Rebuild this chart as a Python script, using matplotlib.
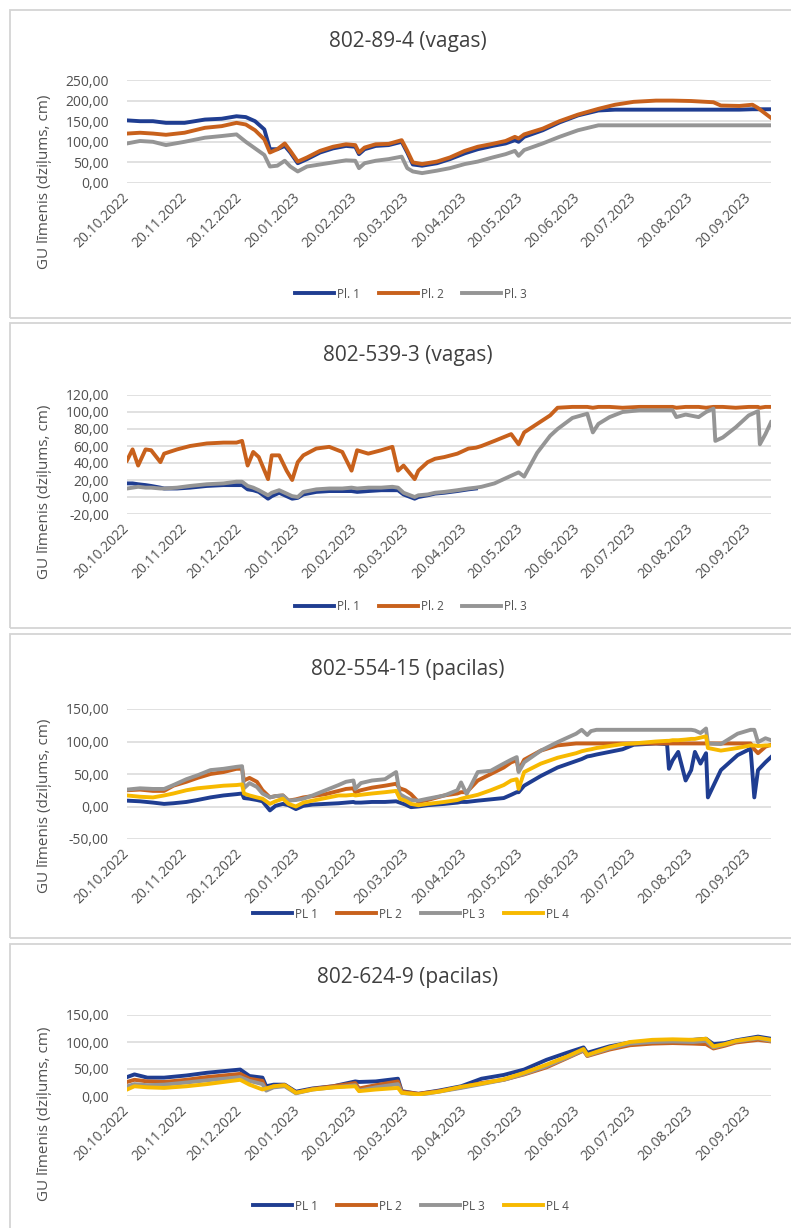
import matplotlib
matplotlib.use("Agg")
import matplotlib.pyplot as plt
import matplotlib.dates as mdates
from matplotlib.patches import Rectangle
from matplotlib.ticker import FuncFormatter, MultipleLocator
import numpy as np
import pandas as pd

plt.rcParams["font.family"] = ["Open Sans", "DejaVu Sans"]

# ---- groundwater level series (cm) ------------------------------------------
p1_dates = ["20.10.2022", "27.10.2022", "03.11.2022", "10.11.2022", "20.11.2022", "01.12.2022",
            "10.12.2022", "18.12.2022", "23.12.2022", "28.12.2022", "02.01.2023", "05.01.2023",
            "09.01.2023", "13.01.2023", "16.01.2023", "20.01.2023", "25.01.2023", "01.02.2023",
            "08.02.2023", "15.02.2023", "20.02.2023", "22.02.2023", "25.02.2023", "03.03.2023",
            "10.03.2023", "17.03.2023", "20.03.2023", "23.03.2023", "28.03.2023", "05.04.2023",
            "12.04.2023", "20.04.2023", "27.04.2023", "05.05.2023", "12.05.2023", "17.05.2023",
            "19.05.2023", "22.05.2023", "01.06.2023", "10.06.2023", "20.06.2023", "01.07.2023",
            "10.07.2023", "20.07.2023", "01.08.2023", "10.08.2023", "20.08.2023", "01.09.2023",
            "05.09.2023", "15.09.2023", "22.09.2023", "25.09.2023", "02.10.2023"]
p1_pl1 = [152, 150, 150, 146, 146, 154, 156, 162, 160, 150, 130, 82, 82, 90, 74, 48, 58, 74,
          84, 90, 88, 70, 82, 90, 92, 100, 74, 45, 42, 48, 58, 72, 82, 90, 96, 104, 100, 112,
          128, 147, 164, 176, 178, 178, 178, 178, 178, 178, 178, 178, 179, 179, 179]
p1_pl2 = [120, 122, 120, 117, 122, 134, 138, 146, 142, 128, 106, 74, 82, 96, 78, 52, 62, 78,
          88, 94, 92, 74, 86, 94, 95, 104, 78, 50, 46, 52, 62, 78, 88, 95, 102, 112, 108, 118,
          132, 150, 166, 180, 190, 197, 200, 200, 199, 196, 188, 187, 190, 182, 158]
p1_pl3 = [96, 102, 100, 92, 100, 110, 114, 118, 100, 84, 68, 40, 42, 54, 40, 28, 40, 45,
          50, 55, 54, 36, 48, 54, 58, 64, 36, 28, 24, 30, 36, 46, 52, 62, 70, 78, 66, 80,
          96, 112, 128, 140, 140, 140, 140, 140, 140, 140, 140, 140, 140, 140, 140]

p2_dates = ["20.10.2022", "23.10.2022", "26.10.2022", "30.10.2022", "02.11.2022", "07.11.2022",
            "09.11.2022", "16.11.2022", "23.11.2022", "02.12.2022", "11.12.2022", "18.12.2022",
            "21.12.2022", "24.12.2022", "27.12.2022", "30.12.2022", "04.01.2023", "06.01.2023",
            "10.01.2023", "14.01.2023", "17.01.2023", "20.01.2023", "23.01.2023", "30.01.2023",
            "06.02.2023", "13.02.2023", "18.02.2023", "21.02.2023", "27.02.2023", "06.03.2023",
            "12.03.2023", "15.03.2023", "18.03.2023", "24.03.2023", "26.03.2023", "31.03.2023",
            "04.04.2023", "09.04.2023", "16.04.2023", "22.04.2023", "26.04.2023", "29.04.2023",
            "06.05.2023", "15.05.2023", "19.05.2023", "22.05.2023", "29.05.2023", "05.06.2023",
            "09.06.2023", "17.06.2023", "25.06.2023", "28.06.2023", "01.07.2023", "07.07.2023",
            "14.07.2023", "23.07.2023", "10.08.2023", "12.08.2023", "17.08.2023", "24.08.2023",
            "28.08.2023", "01.09.2023", "02.09.2023", "06.09.2023", "13.09.2023", "20.09.2023",
            "25.09.2023", "26.09.2023", "29.09.2023", "02.10.2023"]
p2_pl1 = [16, 16, 15, 14, 13, 11, 10, 10, 11, 13, 14, 14, 14, 9, 8, 6, -2, 1, 5, 1,
          -2, -1, 3, 6, 7, 7, 7, 6, 7, 8, 8, 8, 3, -2, 0, 2, 4, 5, 7, 9, 10] + [None] * 29
p2_pl2 = [43, 56, 37, 56, 55, 41, 51, 56, 60, 63, 64, 64, 66, 37, 53, 47, 21, 49, 49, 31,
          20, 41, 49, 57, 59, 53, 31, 55, 51, 55, 59, 31, 37, 21, 31, 41, 45, 47, 51, 57,
          58, 60, 66, 74, 62, 76, 86, 96, 105, 106, 106, 105, 106, 106, 105, 106, 106, 105,
          106, 106, 105, 106, 106, 106, 105, 106, 106, 105, 106, 106]
p2_pl3 = [10, 11, 12, 11, 11, 10, 10, 11, 13, 15, 16, 18, 18, 13, 11, 8, 2, 5, 8, 4,
          1, 0, 6, 9, 10, 10, 11, 10, 11, 11, 12, 11, 5, 0, 2, 3, 5, 6, 8, 10,
          11, 12, 16, 25, 29, 24, 52, 72, 80, 93, 98, 76, 86, 94, 100, 102, 102, 94, 97, 94,
          100, 104, 66, 70, 82, 96, 101, 62, 74, 88]

p3_dates = ["20.10.2022", "27.10.2022", "03.11.2022", "09.11.2022", "14.11.2022", "21.11.2022",
            "27.11.2022", "04.12.2022", "11.12.2022", "18.12.2022", "21.12.2022", "22.12.2022",
            "25.12.2022", "29.12.2022", "01.01.2023", "05.01.2023", "08.01.2023", "12.01.2023",
            "15.01.2023", "19.01.2023", "23.01.2023", "28.01.2023", "04.02.2023", "11.02.2023",
            "15.02.2023", "19.02.2023", "20.02.2023", "23.02.2023", "01.03.2023", "08.03.2023",
            "14.03.2023", "16.03.2023", "19.03.2023", "22.03.2023", "26.03.2023", "31.03.2023",
            "09.04.2023", "16.04.2023", "18.04.2023", "21.04.2023", "27.04.2023", "04.05.2023",
            "11.05.2023", "15.05.2023", "18.05.2023", "19.05.2023", "22.05.2023", "31.05.2023",
            "09.06.2023", "19.06.2023", "22.06.2023", "25.06.2023", "27.06.2023", "30.06.2023",
            "07.07.2023", "14.07.2023", "20.07.2023", "01.08.2023", "07.08.2023", "08.08.2023",
            "10.08.2023", "13.08.2023", "17.08.2023", "20.08.2023", "22.08.2023", "25.08.2023",
            "28.08.2023", "29.08.2023", "05.09.2023", "14.09.2023", "21.09.2023", "23.09.2023",
            "25.09.2023", "29.09.2023", "02.10.2023"]
p3_pl1 = [9, 8, 6, 4, 5, 7, 10, 14, 17, 19, 20, 13, 12, 10, 8, -6, 1, 4, 2, -4,
          1, 3, 4, 5, 6, 7, 6, 6, 7, 7, 8, 6, 3, -1, 0, 2, 4, 6, 7, 7,
          9, 11, 13, 18, 22, 22, 32, 47, 60,
          70, 73, 77, 78, 80, 84, 88, 95, 97, 96, 58, 71, 84, 40, 56, 84, 66, 82, 14, 56,
          79, 89, 14, 56, 68, 76]
p3_pl2 = [25, 26, 24, 24, 32, 38, 44, 50, 53, 58, 58, 40, 44, 38, 25, 14, 16, 17, 9, 11,
          14, 16, 19, 24, 27, 28, 22, 25, 29, 32, 35, 28, 25, 19, 7, 10, 17, 20, 22, 22,
          40, 50, 60, 68, 71, 55, 72, 86, 94,
          97, 97, 97, 97, 97, 97, 97, 97, 97, 97, 97, 97, 97, 97, 97, 97, 97, 97, 97, 97,
          97, 97, 88, 82, 92, 95]
p3_pl3 = [26, 28, 27, 27, 33, 42, 48, 56, 58, 61, 62, 28, 36, 30, 20, 14, 16, 17, 9, 10,
          12, 17, 25, 33, 38, 40, 27, 36, 40, 42, 53, 19, 14, 10, 9, 12, 17, 25, 37, 19,
          53, 55, 66, 72, 76, 53, 68, 86, 99,
          112, 118, 110, 116, 118, 118, 118, 118, 118, 118, 118, 118, 118, 118, 118, 117, 113,
          120, 97, 96, 112, 118, 118, 99, 105, 102]
p3_pl4 = [17, 15, 14, 17, 20, 25, 28, 30, 32, 33, 34, 20, 17, 14, 12, 4, 8, 12, 4, 0,
          6, 9, 13, 17, 17, 18, 17, 18, 20, 22, 24, 12, 9, 4, 2, 4, 7, 10, 12, 14,
          18, 25, 33, 40, 42, 27, 53, 66, 75,
          82, 85, 87, 88, 90, 93, 96, 97, 100, 101, 101, 102, 102, 103, 104, 104, 106, 108,
          90, 86, 90, 94, 94, 93, 94, 94]

p4_dates = ["20.10.2022", "24.10.2022", "31.10.2022", "09.11.2022", "21.11.2022", "02.12.2022",
            "11.12.2022", "20.12.2022", "25.12.2022", "01.01.2023", "03.01.2023", "07.01.2023",
            "13.01.2023", "19.01.2023", "28.01.2023", "08.02.2023", "20.02.2023", "22.02.2023",
            "03.03.2023", "15.03.2023", "17.03.2023", "26.03.2023", "06.04.2023", "18.04.2023",
            "29.04.2023", "11.05.2023", "22.05.2023", "03.06.2023", "14.06.2023", "23.06.2023",
            "25.06.2023", "07.07.2023", "18.07.2023", "30.07.2023", "10.08.2023", "21.08.2023",
            "28.08.2023", "01.09.2023", "07.09.2023", "13.09.2023", "25.09.2023", "02.10.2023"]
p4_pl1 = [35, 40, 34, 34, 38, 43, 46, 49, 37, 34, 18, 21, 21, 8, 14, 18, 27, 26, 27, 32,
          9, 4, 10, 18, 32, 39, 49, 67, 80, 90, 80, 92, 99, 101, 103, 104, 106, 96, 98, 103,
          110, 106]
p4_pl2 = [26, 30, 27, 26, 30, 35, 38, 41, 32, 28, 12, 18, 20, 6, 13, 18, 24, 14, 20, 27,
          8, 4, 9, 16, 24, 30, 40, 53, 70, 84, 74, 86, 94, 97, 98, 97, 96, 88, 93, 99,
          104, 101]
p4_pl3 = [18, 22, 20, 21, 25, 29, 32, 35, 28, 22, 10, 16, 18, 5, 12, 16, 20, 10, 16, 22,
          6, 2, 8, 15, 22, 30, 41, 55, 71, 85, 75, 88, 97, 100, 101, 100, 102, 90, 95, 101,
          107, 102]
p4_pl4 = [12, 18, 16, 15, 18, 22, 26, 30, 21, 12, 14, 18, 20, 6, 12, 16, 18, 9, 12, 15,
          6, 3, 8, 17, 23, 31, 43, 58, 73, 87, 76, 90, 100, 104, 105, 104, 106, 92, 96, 102,
          108, 104]

titles = ["802-89-4 (vagas)", "802-539-3 (vagas)", "802-554-15 (pacilas)", "802-624-9 (pacilas)"]
labels_a = ["Pl. 1", "Pl. 2", "Pl. 3"]
labels_b = ["PL 1", "PL 2", "PL 3", "PL 4"]
ylabel = "GU līmenis (dziļums, cm)"

C_BLUE, C_ORANGE, C_GRAY, C_YELLOW = "#1f3d91", "#c8611c", "#959595", "#f7b900"
COLORS = [C_BLUE, C_ORANGE, C_GRAY, C_YELLOW]

W, H = 791, 1228


def fbox(x0, y0, x1, y1):
    # pixel box (top-left origin) -> figure fraction [l, b, w, h]
    return [x0 / W, 1 - y1 / H, (x1 - x0) / W, (y1 - y0) / H]


def fmt_num(v, _):
    return f"{v:.2f}".replace(".", ",")


panels = [
    dict(dates=p1_dates, series=[p1_pl1, p1_pl2, p1_pl3], labels=labels_a,
         box=(10, 10, 800, 318), plot=(127, 80, 771, 183), ylim=(0, 250), step=50,
         title_y=42, ylab_y=182, leg_y=294),
    dict(dates=p2_dates, series=[p2_pl1, p2_pl2, p2_pl3], labels=labels_a,
         box=(10, 323, 800, 628), plot=(127, 395, 771, 514), ylim=(-20, 120), step=20,
         title_y=356, ylab_y=492, leg_y=607),
    dict(dates=p3_dates, series=[p3_pl1, p3_pl2, p3_pl3, p3_pl4], labels=labels_b,
         box=(10, 634, 800, 938), plot=(127, 709, 771, 839), ylim=(-50, 150), step=50,
         title_y=669, ylab_y=806, leg_y=914),
    dict(dates=p4_dates, series=[p4_pl1, p4_pl2, p4_pl3, p4_pl4], labels=labels_b,
         box=(10, 944, 800, 1240), plot=(127, 1015, 771, 1096), ylim=(0, 150), step=50,
         title_y=977, ylab_y=1114, leg_y=1206),
]

x_start = pd.Timestamp("2022-10-20")
x_end = pd.Timestamp("2023-10-02")
tick_dates = pd.date_range("2022-10-20", periods=12, freq=pd.DateOffset(months=1))

fig = plt.figure(figsize=(W / 100, H / 100), dpi=100)
fig.patch.set_facecolor("white")

for i, p in enumerate(panels):
    bx0, by0, bx1, by1 = p["box"]
    fig.patches.append(Rectangle((bx0 / W, 1 - by1 / H), (bx1 - bx0) / W, (by1 - by0) / H,
                                 transform=fig.transFigure, fill=False,
                                 edgecolor="#d4d4d4", lw=1.3, zorder=0))
    ax = fig.add_axes(fbox(*p["plot"]))
    x = pd.to_datetime(p["dates"], format="%d.%m.%Y")
    handles = []
    for vals, lab, col in zip(p["series"], p["labels"], COLORS):
        y = np.array(vals, dtype=float)
        h, = ax.plot(x, y, color=col, lw=2.8, label=lab, solid_joinstyle="round", zorder=3)
        handles.append(h)

    ax.set_xlim(x_start, x_end)
    ax.set_ylim(*p["ylim"])
    ax.yaxis.set_major_locator(MultipleLocator(p["step"]))
    ax.yaxis.set_major_formatter(FuncFormatter(fmt_num))
    ax.set_xticks(tick_dates)
    ax.xaxis.set_major_formatter(mdates.DateFormatter("%d.%m.%Y"))
    ax.grid(axis="y", color="#d9d9d9", lw=1.1, zorder=0)
    ax.set_axisbelow(True)
    for s in ax.spines.values():
        s.set_visible(False)
    ax.tick_params(axis="both", length=0, colors="#505050", labelsize=10)
    ax.tick_params(axis="y", pad=13)
    ax.tick_params(axis="x", pad=9)
    for lbl in ax.get_xticklabels():
        lbl.set_rotation(45)
        lbl.set_ha("right")
        lbl.set_va("center")
        lbl.set_rotation_mode("anchor")

    fig.text(408 / W, 1 - p["title_y"] / H, titles[i], ha="center", va="center",
             fontsize=15, color="#404040")
    fig.text(45 / W, 1 - p["ylab_y"] / H, ylabel, rotation=90, ha="center", va="center",
             fontsize=11, color="#505050")
    fig.legend(handles=handles, loc="center", bbox_to_anchor=(411 / W, 1 - p["leg_y"] / H),
               ncol=len(handles), frameon=False, fontsize=8.5, handlelength=3.3,
               handletextpad=0.25, columnspacing=1.6, labelcolor="#505050")

fig.savefig("out.png", dpi=100, facecolor="white")
